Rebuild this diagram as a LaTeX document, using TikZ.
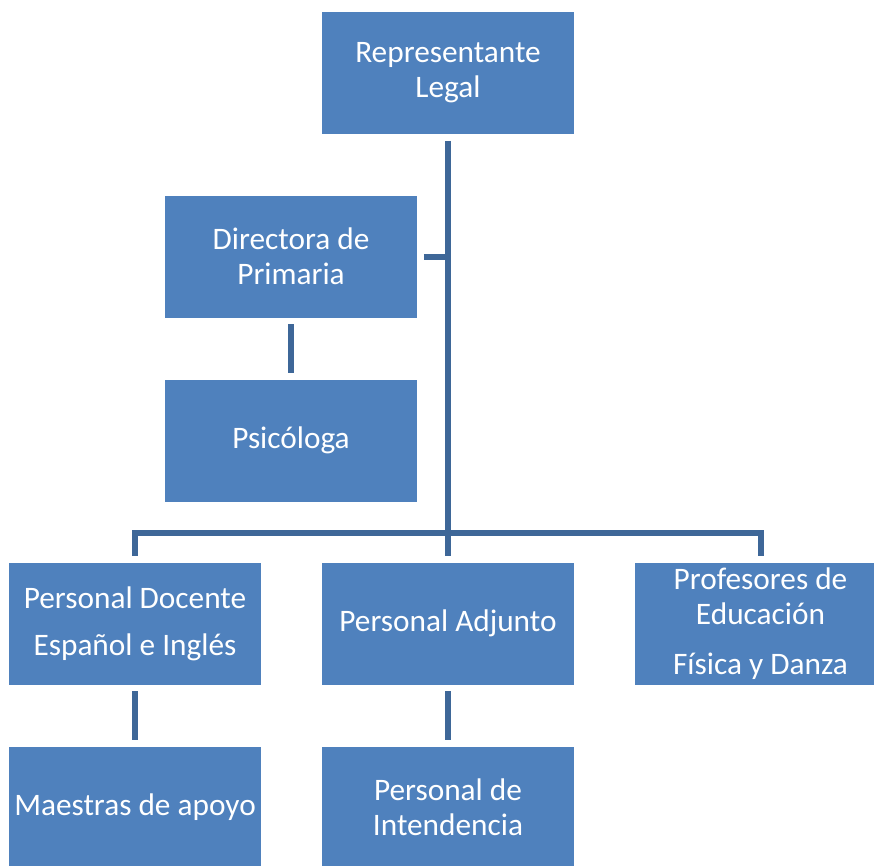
\documentclass[tikz,border=0pt]{standalone}
\usepackage{fontspec}
\setmainfont{Carlito}
\usetikzlibrary{calc}
\definecolor{boxblue}{RGB}{79,129,189}
\definecolor{lineblue}{RGB}{62,103,152}
\tikzset{
  orgbox/.style={rectangle, fill=boxblue, draw=white, line width=0.8pt, text=white,
    minimum width=253pt, minimum height=123pt, inner sep=0pt, align=center,
    font=\fontsize{31.3}{35}\selectfont},
  conn/.style={draw=lineblue, line width=6pt, line cap=butt}
}
\begin{document}
\begin{tikzpicture}[x=1pt,y=-1pt]
\clip (0,0) rectangle (874,865);
\fill[white] (0,0) rectangle (874,865);
\node[orgbox] (rep) at (448,73) {Representante\\Legal};
\node[orgbox] (dir) at (291,256.5) {Directora de\\Primaria};
\node[orgbox] (psi) at (291,440.5) {Psicóloga};
\node[orgbox] (doc) at (135,623.5) {Personal Docente\\[12pt]Español e Inglés};
\node[orgbox] (adj) at (448,623.5) {Personal Adjunto};
\node[orgbox] (prof) at (760.5,623.5) {Profesores de\\Educación\\[15pt]Física y Danza};
\node[orgbox] (mae) at (135,807.5) {Maestras de apoyo};
\node[orgbox] (int) at (448,807.5) {Personal de\\Intendencia};
\coordinate (bar) at (448,533);
% trunk
\draw[conn] ([yshift=-6pt]rep.south) -- ([yshift=6pt]adj.north);
% directora stub
\draw[conn] ([xshift=6pt]dir.east) -- (dir.east -| rep.south);
% directora to psicologa
\draw[conn] ([yshift=-6pt]dir.south) -- ([yshift=6pt]psi.north);
% bar to bottom row
\draw[conn, line join=miter] ([yshift=6pt]doc.north) -- (doc.north |- bar) -- (prof.north |- bar) -- ([yshift=6pt]prof.north);
% second level drops
\draw[conn] ([yshift=-6pt]doc.south) -- ([yshift=6pt]mae.north);
\draw[conn] ([yshift=-6pt]adj.south) -- ([yshift=6pt]int.north);
\end{tikzpicture}
\end{document}
